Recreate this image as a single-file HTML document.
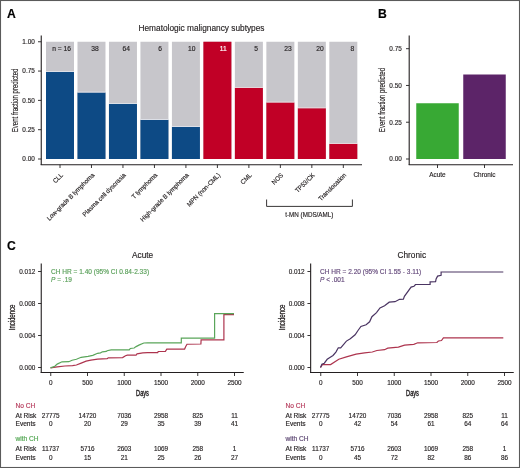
<!DOCTYPE html>
<html><head><meta charset="utf-8"><style>
html,body{margin:0;padding:0;background:#fff;}
#w{position:relative;width:520px;height:468px;overflow:hidden;background:#fff;}
svg{position:absolute;left:0;top:0;will-change:transform;}
text{font-family:"Liberation Sans", sans-serif;stroke-width:0.15px;}
</style></head><body><div id="w">
<svg width="520" height="468" viewBox="0 0 520 468" font-family='"Liberation Sans", sans-serif'>
<rect x="0" y="0" width="520" height="468" fill="#fff"/>
<text x="6.9" y="17.9" font-size="12.2" text-anchor="start" fill="#000" stroke="#000" font-weight="bold" >A</text>
<text x="378.0" y="17.9" font-size="12.2" text-anchor="start" fill="#000" stroke="#000" font-weight="bold" >B</text>
<text x="6.9" y="249.6" font-size="12.2" text-anchor="start" fill="#000" stroke="#000" font-weight="bold" >C</text>
<line x1="41.25" y1="35.5" x2="41.25" y2="165" stroke="#231f20" stroke-width="1.1"/>
<line x1="40.7" y1="164.7" x2="362" y2="164.7" stroke="#231f20" stroke-width="1.05"/>
<line x1="38" y1="41.75" x2="41.25" y2="41.75" stroke="#231f20" stroke-width="0.9"/>
<text x="34.8" y="44.05" font-size="6.4" text-anchor="end" fill="#231f20" stroke="#231f20" font-weight="normal" >1.00</text>
<line x1="38" y1="71.0625" x2="41.25" y2="71.0625" stroke="#231f20" stroke-width="0.9"/>
<text x="34.8" y="73.3625" font-size="6.4" text-anchor="end" fill="#231f20" stroke="#231f20" font-weight="normal" >0.75</text>
<line x1="38" y1="100.375" x2="41.25" y2="100.375" stroke="#231f20" stroke-width="0.9"/>
<text x="34.8" y="102.675" font-size="6.4" text-anchor="end" fill="#231f20" stroke="#231f20" font-weight="normal" >0.50</text>
<line x1="38" y1="129.6875" x2="41.25" y2="129.6875" stroke="#231f20" stroke-width="0.9"/>
<text x="34.8" y="131.9875" font-size="6.4" text-anchor="end" fill="#231f20" stroke="#231f20" font-weight="normal" >0.25</text>
<line x1="38" y1="159.0" x2="41.25" y2="159.0" stroke="#231f20" stroke-width="0.9"/>
<text x="34.8" y="161.3" font-size="6.4" text-anchor="end" fill="#231f20" stroke="#231f20" font-weight="normal" >0.00</text>
<rect x="46.0" y="41.75" width="28" height="117.25" fill="#c7c6cb"/>
<rect x="46.0" y="72.0005" width="28" height="86.9995" fill="#0d4a85"/>
<rect x="46.0" y="71.1005" width="28" height="0.9" fill="#dfe3ea"/>
<line x1="60.0" y1="164.7" x2="60.0" y2="168" stroke="#231f20" stroke-width="0.9"/>
<text x="71" y="50.9" font-size="6.7" text-anchor="end" fill="#231f20" stroke="#231f20" font-weight="normal" >n = 16</text>
<text transform="translate(63.3,175.6) rotate(-45)" font-size="6.4" text-anchor="end" fill="#231f20" stroke="#231f20" textLength="11.15" lengthAdjust="spacingAndGlyphs">CLL</text>
<rect x="77.48" y="41.75" width="28" height="117.25" fill="#c7c6cb"/>
<rect x="77.48" y="92.51925" width="28" height="66.48075" fill="#0d4a85"/>
<rect x="77.48" y="91.61925" width="28" height="0.9" fill="#dfe3ea"/>
<line x1="91.48" y1="164.7" x2="91.48" y2="168" stroke="#231f20" stroke-width="0.9"/>
<text x="98.75" y="50.9" font-size="6.7" text-anchor="end" fill="#231f20" stroke="#231f20" font-weight="normal" >38</text>
<text transform="translate(94.78,175.6) rotate(-45)" font-size="6.4" text-anchor="end" fill="#231f20" stroke="#231f20" textLength="64.21" lengthAdjust="spacingAndGlyphs">Low-grade B lymphoma</text>
<rect x="108.96000000000001" y="41.75" width="28" height="117.25" fill="#c7c6cb"/>
<rect x="108.96000000000001" y="104.00975" width="28" height="54.99025" fill="#0d4a85"/>
<rect x="108.96000000000001" y="103.10974999999999" width="28" height="0.9" fill="#dfe3ea"/>
<line x1="122.96000000000001" y1="164.7" x2="122.96000000000001" y2="168" stroke="#231f20" stroke-width="0.9"/>
<text x="130" y="50.9" font-size="6.7" text-anchor="end" fill="#231f20" stroke="#231f20" font-weight="normal" >64</text>
<text transform="translate(126.26,175.6) rotate(-45)" font-size="6.4" text-anchor="end" fill="#231f20" stroke="#231f20" textLength="58.46" lengthAdjust="spacingAndGlyphs">Plasma cell dyscrasia</text>
<rect x="140.44" y="41.75" width="28" height="117.25" fill="#c7c6cb"/>
<rect x="140.44" y="119.95575" width="28" height="39.044250000000005" fill="#0d4a85"/>
<rect x="140.44" y="119.05574999999999" width="28" height="0.9" fill="#dfe3ea"/>
<line x1="154.44" y1="164.7" x2="154.44" y2="168" stroke="#231f20" stroke-width="0.9"/>
<text x="162" y="50.9" font-size="6.7" text-anchor="end" fill="#231f20" stroke="#231f20" font-weight="normal" >6</text>
<text transform="translate(157.74,175.6) rotate(-45)" font-size="6.4" text-anchor="end" fill="#231f20" stroke="#231f20" textLength="33.34" lengthAdjust="spacingAndGlyphs">T lymphoma</text>
<rect x="171.92000000000002" y="41.75" width="28" height="117.25" fill="#c7c6cb"/>
<rect x="171.92000000000002" y="126.99074999999999" width="28" height="32.00925000000001" fill="#0d4a85"/>
<rect x="171.92000000000002" y="126.09074999999999" width="28" height="0.9" fill="#dfe3ea"/>
<line x1="185.92000000000002" y1="164.7" x2="185.92000000000002" y2="168" stroke="#231f20" stroke-width="0.9"/>
<text x="195.5" y="50.9" font-size="6.7" text-anchor="end" fill="#231f20" stroke="#231f20" font-weight="normal" >10</text>
<text transform="translate(189.22000000000003,175.6) rotate(-45)" font-size="6.4" text-anchor="end" fill="#231f20" stroke="#231f20" textLength="65.56" lengthAdjust="spacingAndGlyphs">High-grade B lymphoma</text>
<rect x="203.4" y="41.75" width="28" height="117.25" fill="#c7c6cb"/>
<rect x="203.4" y="41.75" width="28" height="117.25" fill="#c10026"/>
<line x1="217.4" y1="164.7" x2="217.4" y2="168" stroke="#231f20" stroke-width="0.9"/>
<text x="226.75" y="50.9" font-size="6.7" text-anchor="end" fill="#fff" stroke="#fff" font-weight="normal" >11</text>
<text transform="translate(220.70000000000002,175.6) rotate(-45)" font-size="6.4" text-anchor="end" fill="#231f20" stroke="#231f20" textLength="44.26" lengthAdjust="spacingAndGlyphs">MPN (non-CML)</text>
<rect x="234.88" y="41.75" width="28" height="117.25" fill="#c7c6cb"/>
<rect x="234.88" y="87.9465" width="28" height="71.0535" fill="#c10026"/>
<rect x="234.88" y="87.0465" width="28" height="0.9" fill="#ead8dc"/>
<line x1="248.88" y1="164.7" x2="248.88" y2="168" stroke="#231f20" stroke-width="0.9"/>
<text x="258" y="50.9" font-size="6.7" text-anchor="end" fill="#231f20" stroke="#231f20" font-weight="normal" >5</text>
<text transform="translate(252.18,175.6) rotate(-45)" font-size="6.4" text-anchor="end" fill="#231f20" stroke="#231f20" textLength="12.84" lengthAdjust="spacingAndGlyphs">CML</text>
<rect x="266.36" y="41.75" width="28" height="117.25" fill="#c7c6cb"/>
<rect x="266.36" y="102.4855" width="28" height="56.5145" fill="#c10026"/>
<rect x="266.36" y="101.5855" width="28" height="0.9" fill="#ead8dc"/>
<line x1="280.36" y1="164.7" x2="280.36" y2="168" stroke="#231f20" stroke-width="0.9"/>
<text x="291.75" y="50.9" font-size="6.7" text-anchor="end" fill="#231f20" stroke="#231f20" font-weight="normal" >23</text>
<text transform="translate(283.66,175.6) rotate(-45)" font-size="6.4" text-anchor="end" fill="#231f20" stroke="#231f20" textLength="13.18" lengthAdjust="spacingAndGlyphs">NOS</text>
<rect x="297.84000000000003" y="41.75" width="28" height="117.25" fill="#c7c6cb"/>
<rect x="297.84000000000003" y="108.23075" width="28" height="50.76925" fill="#c10026"/>
<rect x="297.84000000000003" y="107.33075" width="28" height="0.9" fill="#ead8dc"/>
<line x1="311.84000000000003" y1="164.7" x2="311.84000000000003" y2="168" stroke="#231f20" stroke-width="0.9"/>
<text x="323.75" y="50.9" font-size="6.7" text-anchor="end" fill="#231f20" stroke="#231f20" font-weight="normal" >20</text>
<text transform="translate(315.14000000000004,175.6) rotate(-45)" font-size="6.4" text-anchor="end" fill="#231f20" stroke="#231f20" textLength="24.67" lengthAdjust="spacingAndGlyphs">TP53/CK</text>
<rect x="329.32" y="41.75" width="28" height="117.25" fill="#c7c6cb"/>
<rect x="329.32" y="143.992" width="28" height="15.00800000000001" fill="#c10026"/>
<rect x="329.32" y="143.09199999999998" width="28" height="0.9" fill="#ead8dc"/>
<line x1="343.32" y1="164.7" x2="343.32" y2="168" stroke="#231f20" stroke-width="0.9"/>
<text x="354.25" y="50.9" font-size="6.7" text-anchor="end" fill="#231f20" stroke="#231f20" font-weight="normal" >8</text>
<text transform="translate(346.62,175.6) rotate(-45)" font-size="6.4" text-anchor="end" fill="#231f20" stroke="#231f20" textLength="36.27" lengthAdjust="spacingAndGlyphs">Translocation</text>
<text transform="translate(17.6,100.4) rotate(-90)" font-size="8.4" text-anchor="middle" fill="#231f20" stroke="#231f20" textLength="63.8" lengthAdjust="spacingAndGlyphs">Event fraction predicted</text>
<text x="201.5" y="30.7" font-size="8.7" text-anchor="middle" fill="#231f20" stroke="#231f20" font-weight="normal" textLength="126" lengthAdjust="spacingAndGlyphs" >Hematologic malignancy subtypes</text>
<path d="M266.6 199.5 V206.4 H352.4 V199.5" fill="none" stroke="#231f20" stroke-width="0.9"/>
<text x="309.3" y="217.4" font-size="6.5" text-anchor="middle" fill="#231f20" stroke="#231f20" font-weight="normal" textLength="48" lengthAdjust="spacingAndGlyphs" >t-MN (MDS/AML)</text>
<line x1="409.2" y1="35.5" x2="409.2" y2="165" stroke="#231f20" stroke-width="1.1"/>
<line x1="408.7" y1="164.7" x2="513" y2="164.7" stroke="#231f20" stroke-width="1.05"/>
<line x1="406" y1="48.7" x2="409.2" y2="48.7" stroke="#231f20" stroke-width="0.9"/>
<text x="401.8" y="51.0" font-size="6.4" text-anchor="end" fill="#231f20" stroke="#231f20" font-weight="normal" >0.75</text>
<line x1="406" y1="85.46666666666667" x2="409.2" y2="85.46666666666667" stroke="#231f20" stroke-width="0.9"/>
<text x="401.8" y="87.76666666666667" font-size="6.4" text-anchor="end" fill="#231f20" stroke="#231f20" font-weight="normal" >0.50</text>
<line x1="406" y1="122.23333333333333" x2="409.2" y2="122.23333333333333" stroke="#231f20" stroke-width="0.9"/>
<text x="401.8" y="124.53333333333333" font-size="6.4" text-anchor="end" fill="#231f20" stroke="#231f20" font-weight="normal" >0.25</text>
<line x1="406" y1="159.0" x2="409.2" y2="159.0" stroke="#231f20" stroke-width="0.9"/>
<text x="401.8" y="161.3" font-size="6.4" text-anchor="end" fill="#231f20" stroke="#231f20" font-weight="normal" >0.00</text>
<rect x="416.25" y="103.25" width="42.5" height="55.75" fill="#38a934"/>
<rect x="463.25" y="74.5" width="42.5" height="84.5" fill="#5c2468"/>
<line x1="437.5" y1="164.7" x2="437.5" y2="168" stroke="#231f20" stroke-width="0.9"/>
<line x1="484.5" y1="164.7" x2="484.5" y2="168" stroke="#231f20" stroke-width="0.9"/>
<text x="437.5" y="177" font-size="6.4" text-anchor="middle" fill="#231f20" stroke="#231f20" font-weight="normal" >Acute</text>
<text x="484.5" y="177" font-size="6.4" text-anchor="middle" fill="#231f20" stroke="#231f20" font-weight="normal" >Chronic</text>
<text transform="translate(385.0,100.0) rotate(-90)" font-size="8.4" text-anchor="middle" fill="#231f20" stroke="#231f20" textLength="64.3" lengthAdjust="spacingAndGlyphs">Event fraction predicted</text>
<line x1="41.25" y1="263.5" x2="41.25" y2="373" stroke="#231f20" stroke-width="1.1"/>
<line x1="40.75" y1="372.5" x2="243.75" y2="372.5" stroke="#231f20" stroke-width="1.1"/>
<line x1="38.05" y1="271.5" x2="41.25" y2="271.5" stroke="#231f20" stroke-width="0.9"/>
<text x="35.25" y="273.8" font-size="6.4" text-anchor="end" fill="#231f20" stroke="#231f20" font-weight="normal" >0.012</text>
<line x1="38.05" y1="303.5" x2="41.25" y2="303.5" stroke="#231f20" stroke-width="0.9"/>
<text x="35.25" y="305.8" font-size="6.4" text-anchor="end" fill="#231f20" stroke="#231f20" font-weight="normal" >0.008</text>
<line x1="38.05" y1="335.5" x2="41.25" y2="335.5" stroke="#231f20" stroke-width="0.9"/>
<text x="35.25" y="337.8" font-size="6.4" text-anchor="end" fill="#231f20" stroke="#231f20" font-weight="normal" >0.004</text>
<line x1="38.05" y1="367.5" x2="41.25" y2="367.5" stroke="#231f20" stroke-width="0.9"/>
<text x="35.25" y="369.8" font-size="6.4" text-anchor="end" fill="#231f20" stroke="#231f20" font-weight="normal" >0.000</text>
<line x1="50.75" y1="372.5" x2="50.75" y2="376" stroke="#231f20" stroke-width="0.9"/>
<text x="50.75" y="384.8" font-size="6.4" text-anchor="middle" fill="#231f20" stroke="#231f20" font-weight="normal" >0</text>
<line x1="87.5" y1="372.5" x2="87.5" y2="376" stroke="#231f20" stroke-width="0.9"/>
<text x="87.5" y="384.8" font-size="6.4" text-anchor="middle" fill="#231f20" stroke="#231f20" font-weight="normal" >500</text>
<line x1="124.25" y1="372.5" x2="124.25" y2="376" stroke="#231f20" stroke-width="0.9"/>
<text x="124.25" y="384.8" font-size="6.4" text-anchor="middle" fill="#231f20" stroke="#231f20" font-weight="normal" >1000</text>
<line x1="161.0" y1="372.5" x2="161.0" y2="376" stroke="#231f20" stroke-width="0.9"/>
<text x="161.0" y="384.8" font-size="6.4" text-anchor="middle" fill="#231f20" stroke="#231f20" font-weight="normal" >1500</text>
<line x1="197.75" y1="372.5" x2="197.75" y2="376" stroke="#231f20" stroke-width="0.9"/>
<text x="197.75" y="384.8" font-size="6.4" text-anchor="middle" fill="#231f20" stroke="#231f20" font-weight="normal" >2000</text>
<line x1="234.5" y1="372.5" x2="234.5" y2="376" stroke="#231f20" stroke-width="0.9"/>
<text x="234.5" y="384.8" font-size="6.4" text-anchor="middle" fill="#231f20" stroke="#231f20" font-weight="normal" >2500</text>
<text x="132" y="257.6" font-size="8.3" text-anchor="start" fill="#231f20" stroke="#231f20" font-weight="normal" >Acute</text>
<text transform="translate(142.5,396.2) scale(0.66,1)" font-size="8.5" text-anchor="middle" fill="#231f20" stroke="#231f20" style="stroke-width:0.4px">Days</text>
<text transform="translate(15.0,317.5) rotate(-90) scale(0.627,1)" font-size="9.5" text-anchor="middle" fill="#231f20" stroke="#231f20" style="stroke-width:0.3px">Incidence</text>
<text x="51" y="274" font-size="6.55" text-anchor="start" fill="#5aa05a" stroke="#5aa05a" font-weight="normal" >CH HR = 1.40 (95% CI 0.84-2.33)</text>
<text x="51" y="281.8" font-size="6.55" fill="#5aa05a" stroke="#5aa05a"><tspan font-style="italic">P</tspan> = .19</text>
<path d="M50.50 367.90 L57.20 366.90 L64.90 366.00 L72.60 365.70 L76.40 365.00 L81.20 363.10 L86.10 361.20 L90.90 360.20 L97.60 359.10 L107.20 358.60 L108.20 357.80 L122.60 357.60 L125.50 355.70 L127.40 355.20 L136.10 355.20 L137.00 353.80 L142.80 352.80 L147.60 352.70 L157.70 352.70 L158.20 351.50 L165.40 351.30 L166.80 349.10 L184.60 349.10 L185.60 346.70 L187.00 344.25 L200.90 344.00 L201.10 339.90 L223.90 339.90 L223.90 314.60 L234.00 314.60" fill="none" stroke="#ad344e" stroke-width="1.2" stroke-linejoin="miter"/>
<path d="M50.50 367.90 L54.80 366.30 L57.20 364.10 L62.00 361.80 L68.80 361.70 L72.10 360.20 L76.40 359.25 L81.20 357.30 L88.00 356.40 L92.80 355.40 L97.60 353.30 L100.50 352.80 L102.40 351.80 L106.30 351.40 L107.20 350.70 L111.10 349.90 L129.30 349.90 L130.30 348.50 L134.10 348.00 L136.10 346.60 L138.90 345.10 L143.80 343.00 L147.60 342.80 L181.30 342.80 L181.30 338.10 L214.60 338.10 L214.60 313.70 L234.00 313.70" fill="none" stroke="#5aa55a" stroke-width="1.2" stroke-linejoin="miter"/>
<line x1="310.65" y1="263.5" x2="310.65" y2="373" stroke="#231f20" stroke-width="1.1"/>
<line x1="310.15" y1="372.5" x2="513.75" y2="372.5" stroke="#231f20" stroke-width="1.1"/>
<line x1="307.45" y1="271.5" x2="310.65" y2="271.5" stroke="#231f20" stroke-width="0.9"/>
<text x="304.65" y="273.8" font-size="6.4" text-anchor="end" fill="#231f20" stroke="#231f20" font-weight="normal" >0.012</text>
<line x1="307.45" y1="303.5" x2="310.65" y2="303.5" stroke="#231f20" stroke-width="0.9"/>
<text x="304.65" y="305.8" font-size="6.4" text-anchor="end" fill="#231f20" stroke="#231f20" font-weight="normal" >0.008</text>
<line x1="307.45" y1="335.5" x2="310.65" y2="335.5" stroke="#231f20" stroke-width="0.9"/>
<text x="304.65" y="337.8" font-size="6.4" text-anchor="end" fill="#231f20" stroke="#231f20" font-weight="normal" >0.004</text>
<line x1="307.45" y1="367.5" x2="310.65" y2="367.5" stroke="#231f20" stroke-width="0.9"/>
<text x="304.65" y="369.8" font-size="6.4" text-anchor="end" fill="#231f20" stroke="#231f20" font-weight="normal" >0.000</text>
<line x1="320.75" y1="372.5" x2="320.75" y2="376" stroke="#231f20" stroke-width="0.9"/>
<text x="320.75" y="384.8" font-size="6.4" text-anchor="middle" fill="#231f20" stroke="#231f20" font-weight="normal" >0</text>
<line x1="357.5" y1="372.5" x2="357.5" y2="376" stroke="#231f20" stroke-width="0.9"/>
<text x="357.5" y="384.8" font-size="6.4" text-anchor="middle" fill="#231f20" stroke="#231f20" font-weight="normal" >500</text>
<line x1="394.25" y1="372.5" x2="394.25" y2="376" stroke="#231f20" stroke-width="0.9"/>
<text x="394.25" y="384.8" font-size="6.4" text-anchor="middle" fill="#231f20" stroke="#231f20" font-weight="normal" >1000</text>
<line x1="431.0" y1="372.5" x2="431.0" y2="376" stroke="#231f20" stroke-width="0.9"/>
<text x="431.0" y="384.8" font-size="6.4" text-anchor="middle" fill="#231f20" stroke="#231f20" font-weight="normal" >1500</text>
<line x1="467.75" y1="372.5" x2="467.75" y2="376" stroke="#231f20" stroke-width="0.9"/>
<text x="467.75" y="384.8" font-size="6.4" text-anchor="middle" fill="#231f20" stroke="#231f20" font-weight="normal" >2000</text>
<line x1="504.5" y1="372.5" x2="504.5" y2="376" stroke="#231f20" stroke-width="0.9"/>
<text x="504.5" y="384.8" font-size="6.4" text-anchor="middle" fill="#231f20" stroke="#231f20" font-weight="normal" >2500</text>
<text x="397.5" y="257.6" font-size="8.3" text-anchor="start" fill="#231f20" stroke="#231f20" font-weight="normal" >Chronic</text>
<text transform="translate(412.5,396.2) scale(0.66,1)" font-size="8.5" text-anchor="middle" fill="#231f20" stroke="#231f20" style="stroke-width:0.4px">Days</text>
<text transform="translate(285.0,317.5) rotate(-90) scale(0.627,1)" font-size="9.5" text-anchor="middle" fill="#231f20" stroke="#231f20" style="stroke-width:0.3px">Incidence</text>
<text x="320.0" y="274" font-size="6.55" text-anchor="start" fill="#654a7c" stroke="#654a7c" font-weight="normal" >CH HR = 2.20 (95% CI 1.55 - 3.11)</text>
<text x="320.0" y="281.8" font-size="6.55" fill="#654a7c" stroke="#654a7c"><tspan font-style="italic">P</tspan> &lt; .001</text>
<path d="M320.50 367.50 L322.40 364.60 L330.60 364.60 L338.80 359.30 L346.40 356.90 L356.10 354.10 L364.60 352.80 L372.30 352.00 L376.90 350.50 L384.60 349.70 L387.70 348.20 L398.40 347.10 L404.60 345.10 L413.80 344.30 L417.70 342.80 L436.90 342.50 L438.40 341.00 L441.50 340.50 L443.40 337.90 L503.30 337.90" fill="none" stroke="#ad344e" stroke-width="1.2" stroke-linejoin="miter"/>
<path d="M320.50 367.50 L321.90 364.15 L324.30 363.20 L327.20 359.30 L329.10 357.90 L333.00 355.50 L335.90 352.10 L338.30 347.80 L340.70 347.80 L346.40 341.10 L350.30 338.70 L355.10 334.80 L358.00 330.50 L360.90 326.50 L366.10 324.70 L369.60 321.80 L371.90 316.70 L376.50 312.60 L380.00 308.00 L384.60 305.70 L389.20 302.20 L395.00 301.70 L399.60 299.30 L403.40 299.10 L404.40 296.30 L411.10 287.10 L414.00 286.20 L415.50 284.50 L430.10 284.50 L430.10 281.90 L435.60 281.70 L436.10 279.00 L437.60 276.10 L441.10 275.30 L441.10 272.00 L503.30 272.00" fill="none" stroke="#4a3462" stroke-width="1.2" stroke-linejoin="miter"/>
<text x="15.5" y="408.0" font-size="6.6" text-anchor="start" fill="#b5395a" stroke="#b5395a" font-weight="normal" >No CH</text>
<text x="15.5" y="441.2" font-size="6.6" text-anchor="start" fill="#4fa54f" stroke="#4fa54f" font-weight="normal" >with CH</text>
<text x="15.5" y="417.7" font-size="6.6" text-anchor="start" fill="#231f20" stroke="#231f20" font-weight="normal" >At Risk</text>
<text x="50.75" y="417.7" font-size="6.4" text-anchor="middle" fill="#231f20" stroke="#231f20" font-weight="normal" >27775</text>
<text x="87.5" y="417.7" font-size="6.4" text-anchor="middle" fill="#231f20" stroke="#231f20" font-weight="normal" >14720</text>
<text x="124.25" y="417.7" font-size="6.4" text-anchor="middle" fill="#231f20" stroke="#231f20" font-weight="normal" >7036</text>
<text x="161.0" y="417.7" font-size="6.4" text-anchor="middle" fill="#231f20" stroke="#231f20" font-weight="normal" >2958</text>
<text x="197.75" y="417.7" font-size="6.4" text-anchor="middle" fill="#231f20" stroke="#231f20" font-weight="normal" >825</text>
<text x="234.5" y="417.7" font-size="6.4" text-anchor="middle" fill="#231f20" stroke="#231f20" font-weight="normal" >11</text>
<text x="15.5" y="426.3" font-size="6.6" text-anchor="start" fill="#231f20" stroke="#231f20" font-weight="normal" >Events</text>
<text x="50.75" y="426.3" font-size="6.4" text-anchor="middle" fill="#231f20" stroke="#231f20" font-weight="normal" >0</text>
<text x="87.5" y="426.3" font-size="6.4" text-anchor="middle" fill="#231f20" stroke="#231f20" font-weight="normal" >20</text>
<text x="124.25" y="426.3" font-size="6.4" text-anchor="middle" fill="#231f20" stroke="#231f20" font-weight="normal" >29</text>
<text x="161.0" y="426.3" font-size="6.4" text-anchor="middle" fill="#231f20" stroke="#231f20" font-weight="normal" >35</text>
<text x="197.75" y="426.3" font-size="6.4" text-anchor="middle" fill="#231f20" stroke="#231f20" font-weight="normal" >39</text>
<text x="234.5" y="426.3" font-size="6.4" text-anchor="middle" fill="#231f20" stroke="#231f20" font-weight="normal" >41</text>
<text x="15.5" y="450.9" font-size="6.6" text-anchor="start" fill="#231f20" stroke="#231f20" font-weight="normal" >At Risk</text>
<text x="50.75" y="450.9" font-size="6.4" text-anchor="middle" fill="#231f20" stroke="#231f20" font-weight="normal" >11737</text>
<text x="87.5" y="450.9" font-size="6.4" text-anchor="middle" fill="#231f20" stroke="#231f20" font-weight="normal" >5716</text>
<text x="124.25" y="450.9" font-size="6.4" text-anchor="middle" fill="#231f20" stroke="#231f20" font-weight="normal" >2603</text>
<text x="161.0" y="450.9" font-size="6.4" text-anchor="middle" fill="#231f20" stroke="#231f20" font-weight="normal" >1069</text>
<text x="197.75" y="450.9" font-size="6.4" text-anchor="middle" fill="#231f20" stroke="#231f20" font-weight="normal" >258</text>
<text x="234.5" y="450.9" font-size="6.4" text-anchor="middle" fill="#231f20" stroke="#231f20" font-weight="normal" >1</text>
<text x="15.5" y="459.6" font-size="6.6" text-anchor="start" fill="#231f20" stroke="#231f20" font-weight="normal" >Events</text>
<text x="50.75" y="459.6" font-size="6.4" text-anchor="middle" fill="#231f20" stroke="#231f20" font-weight="normal" >0</text>
<text x="87.5" y="459.6" font-size="6.4" text-anchor="middle" fill="#231f20" stroke="#231f20" font-weight="normal" >15</text>
<text x="124.25" y="459.6" font-size="6.4" text-anchor="middle" fill="#231f20" stroke="#231f20" font-weight="normal" >21</text>
<text x="161.0" y="459.6" font-size="6.4" text-anchor="middle" fill="#231f20" stroke="#231f20" font-weight="normal" >25</text>
<text x="197.75" y="459.6" font-size="6.4" text-anchor="middle" fill="#231f20" stroke="#231f20" font-weight="normal" >26</text>
<text x="234.5" y="459.6" font-size="6.4" text-anchor="middle" fill="#231f20" stroke="#231f20" font-weight="normal" >27</text>
<text x="285.5" y="408.0" font-size="6.6" text-anchor="start" fill="#b5395a" stroke="#b5395a" font-weight="normal" >No CH</text>
<text x="285.5" y="441.2" font-size="6.6" text-anchor="start" fill="#5a4470" stroke="#5a4470" font-weight="normal" >with CH</text>
<text x="285.5" y="417.7" font-size="6.6" text-anchor="start" fill="#231f20" stroke="#231f20" font-weight="normal" >At Risk</text>
<text x="320.75" y="417.7" font-size="6.4" text-anchor="middle" fill="#231f20" stroke="#231f20" font-weight="normal" >27775</text>
<text x="357.5" y="417.7" font-size="6.4" text-anchor="middle" fill="#231f20" stroke="#231f20" font-weight="normal" >14720</text>
<text x="394.25" y="417.7" font-size="6.4" text-anchor="middle" fill="#231f20" stroke="#231f20" font-weight="normal" >7036</text>
<text x="431.0" y="417.7" font-size="6.4" text-anchor="middle" fill="#231f20" stroke="#231f20" font-weight="normal" >2958</text>
<text x="467.75" y="417.7" font-size="6.4" text-anchor="middle" fill="#231f20" stroke="#231f20" font-weight="normal" >825</text>
<text x="504.5" y="417.7" font-size="6.4" text-anchor="middle" fill="#231f20" stroke="#231f20" font-weight="normal" >11</text>
<text x="285.5" y="426.3" font-size="6.6" text-anchor="start" fill="#231f20" stroke="#231f20" font-weight="normal" >Events</text>
<text x="320.75" y="426.3" font-size="6.4" text-anchor="middle" fill="#231f20" stroke="#231f20" font-weight="normal" >0</text>
<text x="357.5" y="426.3" font-size="6.4" text-anchor="middle" fill="#231f20" stroke="#231f20" font-weight="normal" >42</text>
<text x="394.25" y="426.3" font-size="6.4" text-anchor="middle" fill="#231f20" stroke="#231f20" font-weight="normal" >54</text>
<text x="431.0" y="426.3" font-size="6.4" text-anchor="middle" fill="#231f20" stroke="#231f20" font-weight="normal" >61</text>
<text x="467.75" y="426.3" font-size="6.4" text-anchor="middle" fill="#231f20" stroke="#231f20" font-weight="normal" >64</text>
<text x="504.5" y="426.3" font-size="6.4" text-anchor="middle" fill="#231f20" stroke="#231f20" font-weight="normal" >64</text>
<text x="285.5" y="450.9" font-size="6.6" text-anchor="start" fill="#231f20" stroke="#231f20" font-weight="normal" >At Risk</text>
<text x="320.75" y="450.9" font-size="6.4" text-anchor="middle" fill="#231f20" stroke="#231f20" font-weight="normal" >11737</text>
<text x="357.5" y="450.9" font-size="6.4" text-anchor="middle" fill="#231f20" stroke="#231f20" font-weight="normal" >5716</text>
<text x="394.25" y="450.9" font-size="6.4" text-anchor="middle" fill="#231f20" stroke="#231f20" font-weight="normal" >2603</text>
<text x="431.0" y="450.9" font-size="6.4" text-anchor="middle" fill="#231f20" stroke="#231f20" font-weight="normal" >1069</text>
<text x="467.75" y="450.9" font-size="6.4" text-anchor="middle" fill="#231f20" stroke="#231f20" font-weight="normal" >258</text>
<text x="504.5" y="450.9" font-size="6.4" text-anchor="middle" fill="#231f20" stroke="#231f20" font-weight="normal" >1</text>
<text x="285.5" y="459.6" font-size="6.6" text-anchor="start" fill="#231f20" stroke="#231f20" font-weight="normal" >Events</text>
<text x="320.75" y="459.6" font-size="6.4" text-anchor="middle" fill="#231f20" stroke="#231f20" font-weight="normal" >0</text>
<text x="357.5" y="459.6" font-size="6.4" text-anchor="middle" fill="#231f20" stroke="#231f20" font-weight="normal" >45</text>
<text x="394.25" y="459.6" font-size="6.4" text-anchor="middle" fill="#231f20" stroke="#231f20" font-weight="normal" >72</text>
<text x="431.0" y="459.6" font-size="6.4" text-anchor="middle" fill="#231f20" stroke="#231f20" font-weight="normal" >82</text>
<text x="467.75" y="459.6" font-size="6.4" text-anchor="middle" fill="#231f20" stroke="#231f20" font-weight="normal" >86</text>
<text x="504.5" y="459.6" font-size="6.4" text-anchor="middle" fill="#231f20" stroke="#231f20" font-weight="normal" >86</text>
<rect x="0.5" y="0.5" width="519" height="467" fill="none" stroke="#5a5a5a" stroke-width="1.1"/>
</svg></div></body></html>
